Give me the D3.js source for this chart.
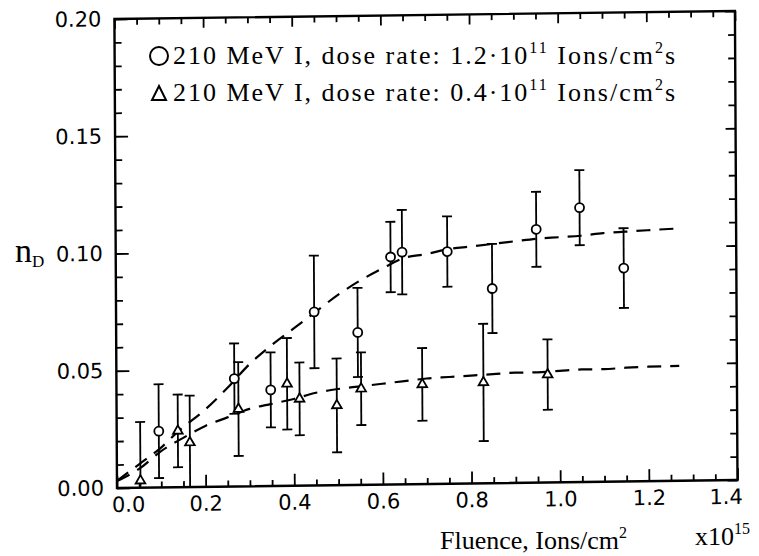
<!DOCTYPE html>
<html><head><meta charset="utf-8">
<script src="https://cdn.jsdelivr.net/npm/d3@7"></script>
<style>body{margin:0;background:#fff}</style>
</head><body>
<svg id="c" width="759" height="556"></svg>
<script>
// ---- data ----
const xTickValues = [0.0, 0.2, 0.4, 0.6, 0.8, 1.0, 1.2, 1.4];
const xTickLabels = ["0.0", "0.2", "0.4", "0.6", "0.8", "1.0", "1.2", "1.4"];
const yTickValues = [0.00, 0.05, 0.10, 0.15, 0.20];
const yTickLabels = ["0.00", "0.05", "0.10", "0.15", "0.20"];

// 210 MeV I, dose rate 1.2e11 (circles)
const circX   = [0.095, 0.266, 0.348, 0.447, 0.545, 0.620, 0.646, 0.748, 0.849, 0.949, 1.047, 1.146];
const circY   = [0.024, 0.046, 0.041, 0.074, 0.065, 0.097, 0.099, 0.099, 0.083, 0.108, 0.117, 0.091];
const circErr = [0.020, 0.015, 0.016, 0.024, 0.019, 0.015, 0.018, 0.015, 0.019, 0.016, 0.016, 0.017];

// 210 MeV I, dose rate 0.4e11 (triangles)
const triX   = [0.053, 0.138, 0.165, 0.275, 0.385, 0.413, 0.497, 0.552, 0.690, 0.828, 0.973];
const triY   = [0.003, 0.024, 0.019, 0.033, 0.0435, 0.037, 0.034, 0.041, 0.0425, 0.043, 0.046];
const triErr = [0.025, 0.0155, 0.020, 0.020, 0.0195, 0.0155, 0.020, 0.0155, 0.0155, 0.025, 0.015];

// dashed fit curves
const fitHighX = [0.0, 0.05, 0.10, 0.14, 0.20, 0.25, 0.30, 0.35, 0.40, 0.45, 0.50, 0.55, 0.60, 0.65, 0.70, 0.75, 0.80, 0.85, 0.90, 0.95, 1.00, 1.05, 1.10, 1.15, 1.20, 1.26];
const fitHighY = [0.003, 0.010, 0.017, 0.024, 0.033, 0.042, 0.052, 0.060, 0.067, 0.074, 0.081, 0.087, 0.092, 0.0965, 0.098, 0.100, 0.101, 0.102, 0.103, 0.104, 0.1045, 0.105, 0.106, 0.1065, 0.107, 0.1075];
const fitLowX  = [0.0, 0.05, 0.10, 0.15, 0.20, 0.25, 0.30, 0.35, 0.40, 0.45, 0.50, 0.55, 0.60, 0.65, 0.70, 0.75, 0.80, 0.85, 0.90, 0.95, 1.00, 1.05, 1.10, 1.15, 1.20, 1.27];
const fitLowY  = [0.003, 0.008, 0.0155, 0.021, 0.026, 0.0295, 0.033, 0.035, 0.037, 0.0395, 0.041, 0.042, 0.043, 0.044, 0.045, 0.0455, 0.046, 0.0465, 0.047, 0.047, 0.0475, 0.048, 0.048, 0.0485, 0.0488, 0.049];

const legendLabels = [
  ["210 MeV I, dose rate: 1.2·10", "11", " Ions/cm", "2", "s"],
  ["210 MeV I, dose rate: 0.4·10", "11", " Ions/cm", "2", "s"]
];
const xTitle = ["Fluence, Ions/cm", "2"];
const xExp = ["x10", "15"];
const yTitle = ["n", "D"];

// ---- layout ----
const L = 117, R = 737.5, T = 19, B = 488;
const svg = d3.select("#c");
const x = d3.scaleLinear().domain([0, 1.4]).range([L, R]);
const y = d3.scaleLinear().domain([0, 0.2]).range([B, T]);

// slight scan tilt of the plotting frame
const g = svg.append("g")
  .attr("transform", `translate(${L},${B}) matrix(1,-0.0129,0.0055,1,0,0) translate(${-L},${-B})`);

const tickFont = "'DejaVu Sans', sans-serif";
const serif = "'Liberation Serif', 'Times New Roman', serif";

const xMinor = d3.range(0, 1.4001, 0.05).filter(v => Math.abs(v / 0.2 - Math.round(v / 0.2)) > 1e-6);
const yMinor = d3.range(0, 0.2001, 0.01).filter(v => Math.abs(v / 0.05 - Math.round(v / 0.05)) > 1e-6);

function styleAxis(sel) {
  sel.select(".domain").remove();
  sel.selectAll("line").attr("stroke", "#000").attr("stroke-width", 1.8);
}
// bottom
g.append("g").attr("transform", `translate(0,${B})`)
  .call(d3.axisBottom(x).tickValues(xMinor).tickSize(-6).tickFormat("")).call(styleAxis);
const bx = g.append("g").attr("transform", `translate(0,${B})`)
  .call(d3.axisBottom(x).tickValues(xTickValues).tickSize(-12).tickPadding(9)
    .tickFormat((d, i) => xTickLabels[i])).call(styleAxis);
bx.selectAll("text").attr("font-family", tickFont).attr("font-size", 21).attr("fill", "#000")
  .attr("dx", (d, i) => i === 0 ? 11 : (i === xTickValues.length - 1 ? -12 : 0));
// top
g.append("g").attr("transform", `translate(0,${T})`)
  .call(d3.axisTop(x).tickValues(xMinor).tickSize(-6).tickFormat("")).call(styleAxis);
g.append("g").attr("transform", `translate(0,${T})`)
  .call(d3.axisTop(x).tickValues(xTickValues).tickSize(-10).tickFormat("")).call(styleAxis);
// left
g.append("g").attr("transform", `translate(${L},0)`)
  .call(d3.axisLeft(y).tickValues(yMinor).tickSize(-7).tickFormat("")).call(styleAxis);
const ly = g.append("g").attr("transform", `translate(${L},0)`)
  .call(d3.axisLeft(y).tickValues(yTickValues).tickSize(-13).tickPadding(13)
    .tickFormat((d, i) => yTickLabels[i])).call(styleAxis);
ly.selectAll("text").attr("font-family", tickFont).attr("font-size", 21).attr("fill", "#000");
// right
g.append("g").attr("transform", `translate(${R},0)`)
  .call(d3.axisRight(y).tickValues(yMinor).tickSize(-7).tickFormat("")).call(styleAxis);
g.append("g").attr("transform", `translate(${R},0)`)
  .call(d3.axisRight(y).tickValues(yTickValues).tickSize(-10).tickFormat("")).call(styleAxis);

// frame
g.append("rect").attr("x", L).attr("y", T).attr("width", R - L).attr("height", B - T)
  .attr("fill", "none").attr("stroke", "#000").attr("stroke-width", 2.4);

// fit curves
const line = d3.line().x(d => x(d[0])).y(d => y(d[1])).curve(d3.curveMonotoneX);
[[fitHighX, fitHighY], [fitLowX, fitLowY]].forEach(([xs, ys]) => {
  g.append("path").datum(xs.map((v, i) => [v, ys[i]])).attr("d", line)
    .attr("fill", "none").attr("stroke", "#000").attr("stroke-width", 2.2)
    .attr("stroke-dasharray", "14,9");
});

// error bars
function errBars(xs, ys, es) {
  const eg = g.append("g").attr("stroke", "#000").attr("stroke-width", 1.8);
  xs.forEach((v, i) => {
    const lo = Math.max(0, ys[i] - es[i]), hi = ys[i] + es[i];
    eg.append("line").attr("x1", x(v)).attr("x2", x(v)).attr("y1", y(lo)).attr("y2", y(hi));
    eg.append("line").attr("x1", x(v) - 5).attr("x2", x(v) + 5).attr("y1", y(hi)).attr("y2", y(hi));
    if (ys[i] - es[i] > 0)
      eg.append("line").attr("x1", x(v) - 5).attr("x2", x(v) + 5).attr("y1", y(lo)).attr("y2", y(lo));
  });
}
errBars(circX, circY, circErr);
errBars(triX, triY, triErr);

// markers
g.append("g").selectAll("circle").data(circX).join("circle")
  .attr("cx", d => x(d)).attr("cy", (d, i) => y(circY[i])).attr("r", 4.5)
  .attr("fill", "#fff").attr("stroke", "#000").attr("stroke-width", 1.8);
const tri = d3.symbol().type(d3.symbolTriangle).size(40);
g.append("g").selectAll("path").data(triX).join("path")
  .attr("transform", (d, i) => `translate(${x(d)},${y(triY[i])})`).attr("d", tri)
  .attr("fill", "#fff").attr("stroke", "#000").attr("stroke-width", 1.8);

// legend (not tilted)
const lg = svg.append("g").attr("font-family", serif).attr("font-size", 26).attr("fill", "#000");
lg.append("circle").attr("cx", 159).attr("cy", 56).attr("r", 9)
  .attr("fill", "none").attr("stroke", "#000").attr("stroke-width", 2);
lg.append("path").attr("d", "M159,86 L166,100 L152,100 Z")
  .attr("fill", "none").attr("stroke", "#000").attr("stroke-width", 2);
const legBase = [64, 101];
legendLabels.forEach((parts, k) => {
  const t = lg.append("text").attr("x", 173).attr("y", legBase[k]);
  t.append("tspan").text(parts[0]);
  t.append("tspan").attr("font-size", 16).attr("dy", -11).text(parts[1]);
  t.append("tspan").attr("dy", 11).text(parts[2]);
  t.append("tspan").attr("font-size", 16).attr("dy", -11).text(parts[3]);
  t.append("tspan").attr("dy", 11).text(parts[4]);
  const len = t.node().getComputedTextLength();
  const n = parts.join("").length;
  t.attr("letter-spacing", ((504 - len) / n).toFixed(2) + "px");
});

// axis titles
const xt = svg.append("text").attr("font-family", serif).attr("font-size", 26).attr("x", 440).attr("y", 549);
xt.append("tspan").text(xTitle[0]);
xt.append("tspan").attr("font-size", 16).attr("dy", -11).text(xTitle[1]);
const xe = svg.append("text").attr("font-family", serif).attr("font-size", 26).attr("x", 695).attr("y", 545);
xe.append("tspan").text(xExp[0]);
xe.append("tspan").attr("font-size", 16).attr("dy", -11).text(xExp[1]);
const yt = svg.append("text").attr("font-family", serif).attr("font-size", 34).attr("x", 15).attr("y", 262);
yt.append("tspan").text(yTitle[0]);
yt.append("tspan").attr("font-size", 17).attr("dy", 5).text(yTitle[1]);
</script>
</body></html>
